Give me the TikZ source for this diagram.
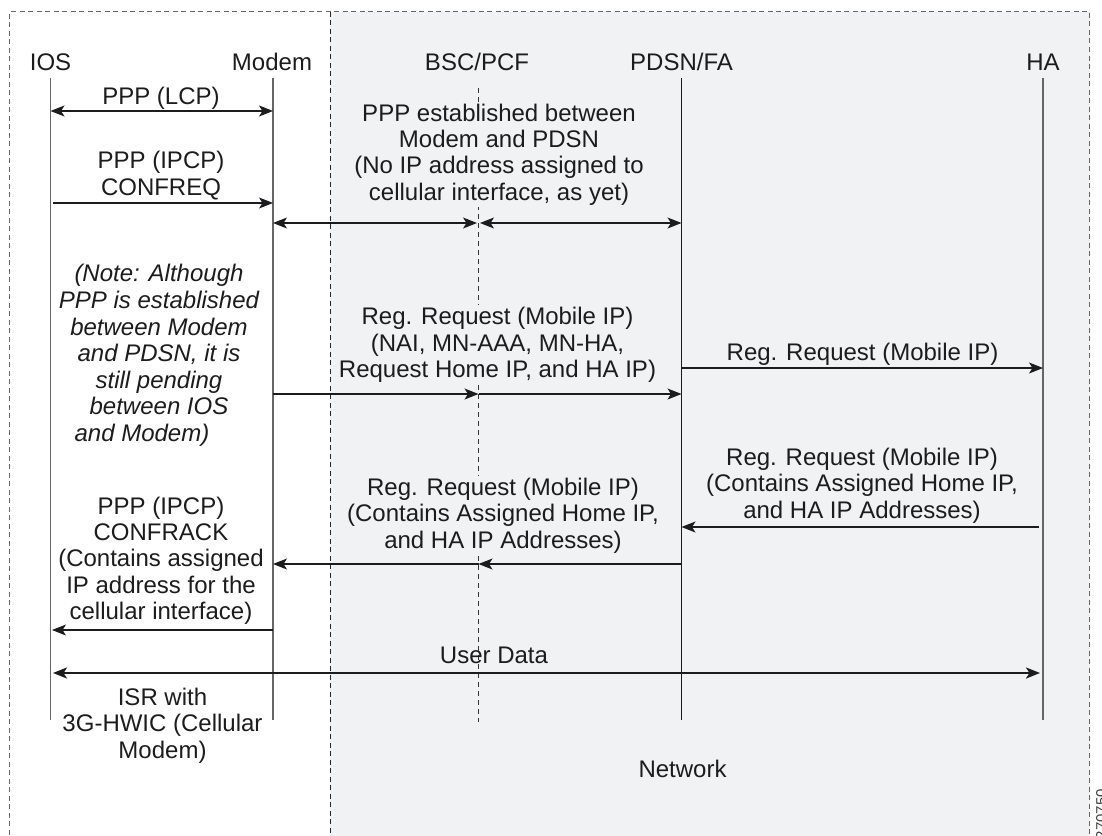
\documentclass[tikz,border=0pt]{standalone}
\usepackage{fontspec}
\setmainfont{Liberation Sans}
\usetikzlibrary{arrows.meta}
\definecolor{netbg}{RGB}{241,242,244}
\definecolor{ink}{RGB}{28,28,30}

\begin{document}
\begin{tikzpicture}[x=1pt,y=-1pt,
  lbl/.style={font=\fontsize{24}{26.3}\selectfont, text=ink, inner sep=0pt},
  blk/.style={lbl, align=center},
  masked/.style={blk, fill=netbg, inner sep=2pt},
  note/.style={blk, font=\fontsize{24}{26.6}\selectfont\itshape},
  life/.style={draw=black!60, line width=1.3pt},
  lifedark/.style={draw=black!90, line width=1.1pt},
  lifedash/.style={draw=black!80, line width=1pt, dash pattern=on 5pt off 4pt},
  msg/.style={draw=ink, line width=1.1pt},
  bulk/.style={draw=ink, line width=2.4pt},
  >={Stealth[length=14pt,width=11pt,inset=3.5pt]}]

\useasboundingbox (0,0) rectangle (1102,835);
\clip (0,0) rectangle (1102,835);

% network side of the figure
\fill[netbg] (330,11.7) rectangle (1089.5,860);
\draw[black!60, line width=1.1pt, dash pattern=on 5pt off 3.5pt]
  (9.6,860) -- (9.6,11.7) -- (1089.5,11.7) -- (1089.5,860);
\draw[black!85, line width=1pt, dash pattern=on 5pt off 3.5pt]
  (330,11.7) -- (330,860);

% lifeline heads
\node[lbl, anchor=base] (ios)   at (50.5,70.5) {IOS};
\node[lbl, anchor=base] (modem) at (272,70.5)  {Modem};
\node[lbl, anchor=base] (bsc)   at (477,70.5)  {BSC/PCF};
\node[lbl, anchor=base] (pdsn)  at (681.5,70.5) {PDSN/FA};
\node[lbl, anchor=base] (ha)    at (1043,70.5) {HA};

% lifeline ends
\coordinate (iosT) at (50.5,78);   \coordinate (iosB) at (50.5,720);
\coordinate (modT) at (273,78);    \coordinate (modB) at (273,720);
\coordinate (bscT) at (478.5,88);  \coordinate (bscB) at (478.5,722);
\coordinate (pdsT) at (681.5,78);  \coordinate (pdsB) at (681.5,720);
\coordinate (haT)  at (1043,78);   \coordinate (haB)  at (1043,720);

\draw[life] (iosT) -- (iosB);
\draw[life] (modT) -- (modB);
\draw[lifedash] (bscT) -- (bscB);
\draw[lifedark] (pdsT) -- (pdsB);
\draw[life] (haT) -- (haB);

% PPP between IOS and modem
\node[lbl, anchor=base] (lcp) at (161,104) {PPP (LCP)};
\draw[msg,<->] (iosT |- 0,111) -- (modT |- 0,111);

\node[blk] (confreq) at (161,175.5) {PPP (IPCP)\\CONFREQ};
\draw[msg,->] ([xshift=2.5pt]iosT |- 0,203) -- (modT |- 0,203);

% PPP between modem and PDSN
\node[masked] (pppnet) at (499,154.4)
  {PPP established between\\Modem and PDSN\\(No IP address assigned to\\cellular interface, as yet)};
\draw[msg,<->,shorten >=1.5pt] (modT |- 0,223) -- (bscT |- 0,223);
\draw[msg,<->,shorten <=1.5pt] (bscT |- 0,223) -- (pdsT |- 0,223);

\node[note] (pending) at (159,355.4)
  {(Note: Although\\PPP is established\\between Modem\\and PDSN, it is\\still pending\\between IOS\\and Modem)\kern34pt};

% Mobile IP registration
\node[masked] (regreq) at (497.5,344.8)
  {Reg. Request (Mobile IP)\\(NAI, MN-AAA, MN-HA,\\Request Home IP, and HA IP)};
\draw[msg,->] (modT |- 0,394) -- (bscT |- 0,394);
\draw[msg,->] (bscT |- 0,394) -- (pdsT |- 0,394);

\node[lbl, anchor=base] (regfwd) at (862.5,360) {Reg. Request (Mobile IP)};
\draw[msg,->] (pdsT |- 0,368) -- (haT |- 0,368);

\node[blk] (regrep) at (862,485.5)
  {Reg. Request (Mobile IP)\\(Contains Assigned Home IP,\\and HA IP Addresses)};
\draw[msg,->] ([xshift=-4pt]haT |- 0,527) -- (pdsT |- 0,527);

\node[masked] (regback) at (503,515.5)
  {Reg. Request (Mobile IP)\\(Contains Assigned Home IP,\\and HA IP Addresses)};
\draw[msg,->] (pdsT |- 0,564) -- (bscT |- 0,564);
\draw[msg,->] (bscT |- 0,564) -- (modT |- 0,564);

\node[blk] (confrack) at (161,560.5)
  {PPP (IPCP)\\CONFRACK\\(Contains assigned\\IP address for the\\cellular interface)};
\draw[msg,->,shorten >=1.5pt] (modT |- 0,630) -- (iosT |- 0,630);

% user traffic end to end
\node[lbl, anchor=base] (data) at (494,663) {User Data};
\draw[bulk,<->,shorten <=2.5pt,shorten >=3pt] (iosT |- 0,673) -- (haT |- 0,673);

\node[blk] (isr) at (162.5,725.7) {ISR with\\3G-HWIC (Cellular\\Modem)};
\node[lbl, anchor=base] (network) at (682.5,777) {Network};

\node[font=\fontsize{15}{15}\selectfont, text=black!75, inner sep=0pt,
      rotate=90, anchor=north east] (figno) at (1096,789) {270750};
\end{tikzpicture}
\end{document}
